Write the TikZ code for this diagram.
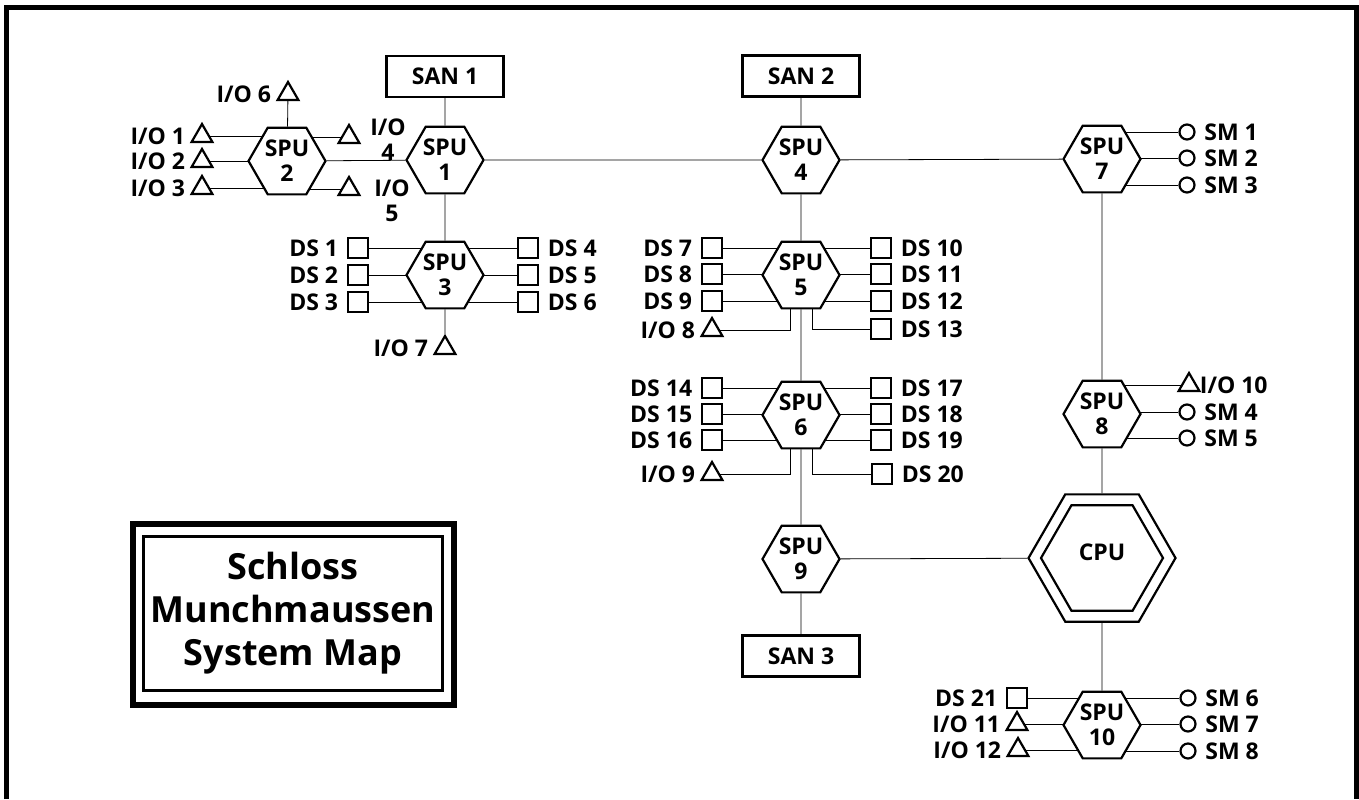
\documentclass[tikz,border=0pt]{standalone}
\usepackage{fontspec}
\setmainfont{Open Sans}
\usetikzlibrary{shapes.geometric}
\pgfdeclarelayer{bg}
\pgfsetlayers{bg,main}
\newcommand{\lblfont}{\fontsize{11.5}{12.5}\selectfont\bfseries}
\tikzset{
  spu/.style={draw, fill=white, regular polygon, regular polygon sides=6, minimum size=38.5pt, inner sep=0pt, align=center, font=\lblfont},
  san/.style={draw, fill=white, minimum width=58.5pt, minimum height=20.5pt, font=\lblfont},
  dsbox/.style={draw, fill=white, minimum size=10pt, inner sep=0pt},
  iotri/.style={draw, fill=white, regular polygon, regular polygon sides=3, minimum size=12pt, inner sep=0pt},
  smcirc/.style={draw, fill=white, circle, minimum size=7.5pt, inner sep=0pt},
  lbl/.style={font=\lblfont, inner sep=0pt},
}

\begin{document}
\begin{tikzpicture}[x=0.5pt, y=-0.5pt, line width=1.1pt, label distance=0.5pt, every label/.style={font=\lblfont}]
  \useasboundingbox (0,0) rectangle (1359,799);
  \draw[line width=2.5pt] (6.5,799) -- (6.5,7.5) -- (1356,7.5) -- (1356,799); %外枠

  \foreach \n/\x/\y in {1/445/160, 2/287/161, 3/445/275, 4/801/160, 5/801/275, 6/801/415, 7/1102/159, 8/1102/414, 9/801/559, 10/1102/725}
    \node[spu] (spu\n) at (\x,\y) {SPU\\\n}; %SPU
  \node[spu, minimum size=73.5pt] (cpu) at (1102,558) {};
  \node[spu, minimum size=61pt, label={[yshift=3pt]center:CPU}] (cpuin) at (cpu) {};

  \node[san] (san1) at (445,76.5) {SAN 1};
  \node[san] (san2) at (801,76) {SAN 2};
  \node[san] (san3) at (801,656) {SAN 3};

  \foreach \n/\x/\y in {1/358/248, 2/358/275, 3/358/302, 7/712/248, 8/712/274, 9/712/301, 14/712/388, 15/712/414, 16/712/440, 21/1017/698}
    \node[dsbox, label=left:DS \n] (ds\n) at (\x,\y) {}; %DS 左
  \foreach \n/\x/\y in {4/528/248, 5/528/275, 6/528/302, 10/881/248, 11/881/274, 12/881/301, 13/881/329, 17/881/388, 18/881/414, 19/881/440, 20/882/474}
    \node[dsbox, label=right:DS \n] (ds\n) at (\x,\y) {}; %DS 右

  \foreach \n/\x/\y in {1/202/136, 2/202/161, 3/202/188, 6/288/94, 7/445/348, 8/712/330, 9/712/474, 11/1017/724, 12/1018/750}
    \node[iotri, label=left:I/O \n] (io\n) at (\x,\y) {}; %I/O
  \node[iotri, label={[label distance=-2.5pt]right:I/O 10}] (io10) at (1189,385) {};
  \node[iotri] (io4) at (349,137) {};
  \node[iotri] (io5) at (349,189) {};
  \node[lbl, align=center] (io4txt) at (388,140) {I/O\\4};
  \node[lbl, align=center] (io5txt) at (392,201) {I/O\\5};

  \foreach \n/\x/\y in {1/1187/132, 2/1187/158, 3/1187/185, 4/1187/412, 5/1187/438, 6/1188/698, 7/1188/724, 8/1188/751}
    \node[smcirc, label=right:SM \n] (sm\n) at (\x,\y) {}; %SM

  \node[draw, line width=3pt, minimum width=160.5pt, minimum height=90.5pt] (titleframe) at (293.5,614.5) {};
  \node[draw, line width=1.5pt, minimum width=148.5pt, minimum height=77pt, align=center,
        font=\fontsize{18}{21.5}\selectfont\bfseries] (title) at (293,613.5) {Schloss\\Munchmaussen\\System Map};

  \begin{pgfonlayer}{bg}
    \draw (san1) -- (spu1) -- (spu3) -- (io7);
    \draw (io6) -- (spu2) -- (spu1) -- (spu4) -- (spu7);
    \draw (san2) -- (spu4) -- (spu5) -- (spu6) -- (spu9) -- (san3);
    \draw (spu7) -- (spu8) -- (cpu) -- (spu10);
    \draw (spu9) -- (cpu);
    \foreach \a/\b in {io1/spu2, io2/spu2, io3/spu2, io4/spu2, io5/spu2, ds1/spu3, ds2/spu3, ds3/spu3, ds4/spu3, ds5/spu3, ds6/spu3,
                       ds7/spu5, ds8/spu5, ds9/spu5, ds10/spu5, ds11/spu5, ds12/spu5, ds14/spu6, ds15/spu6, ds16/spu6, ds17/spu6, ds18/spu6, ds19/spu6,
                       sm1/spu7, sm2/spu7, sm3/spu7, io10/spu8, sm4/spu8, sm5/spu8, ds21/spu10, io11/spu10, io12/spu10, sm6/spu10, sm7/spu10, sm8/spu10}
      \draw (\a) -- (\a -| \b);
    \draw (io8) -| ([xshift=-5.5pt]spu5.south);
    \draw (ds13) -| ([xshift=5.5pt]spu5.south);
    \draw (io9) -| ([xshift=-5.5pt]spu6.south);
    \draw (ds20) -| ([xshift=5.5pt]spu6.south);
  \end{pgfonlayer}
\end{tikzpicture}
\end{document}
